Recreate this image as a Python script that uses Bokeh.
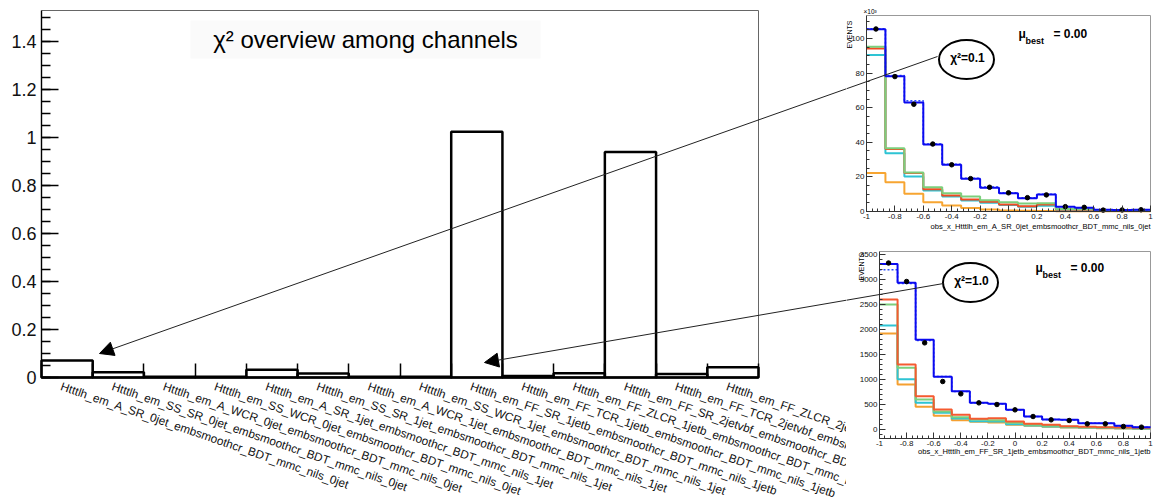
import numpy as np
from bokeh.plotting import figure
from bokeh.layouts import row, column
from bokeh.models import (Range1d, FixedTicker, SingleIntervalTicker, CustomJSTickFormatter, LinearAxis,
                          Label, LabelSet, ColumnDataSource, Arrow, NormalHead, BoxAnnotation)
from bokeh.core.properties import value
from bokeh.embed import file_html
from bokeh.resources import INLINE

FONT = "Liberation Sans"

# ---------------- data ----------------
channels = [
    "Htttlh_em_A_SR_0jet_embsmoothcr_BDT_mmc_nils_0jet",
    "Htttlh_em_SS_SR_0jet_embsmoothcr_BDT_mmc_nils_0jet",
    "Htttlh_em_A_WCR_0jet_embsmoothcr_BDT_mmc_nils_0jet",
    "Htttlh_em_SS_WCR_0jet_embsmoothcr_BDT_mmc_nils_0jet",
    "Htttlh_em_A_SR_1jet_embsmoothcr_BDT_mmc_nils_1jet",
    "Htttlh_em_SS_SR_1jet_embsmoothcr_BDT_mmc_nils_1jet",
    "Htttlh_em_A_WCR_1jet_embsmoothcr_BDT_mmc_nils_1jet",
    "Htttlh_em_SS_WCR_1jet_embsmoothcr_BDT_mmc_nils_1jet",
    "Htttlh_em_FF_SR_1jetb_embsmoothcr_BDT_mmc_nils_1jetb",
    "Htttlh_em_FF_TCR_1jetb_embsmoothcr_BDT_mmc_nils_1jetb",
    "Htttlh_em_FF_ZLCR_1jetb_embsmoothcr_BDT_mmc_nils_1jetb",
    "Htttlh_em_FF_SR_2jetvbf_embsmoothcr_BDT_mmc_nils_2jetvbf",
    "Htttlh_em_FF_TCR_2jetvbf_embsmoothcr_BDT_mmc_nils_2jetvbf",
    "Htttlh_em_FF_ZLCR_2jetvbf_embsmoothcr_BDT_mmc_nils_2jetvbf",
]
chi2 = [0.071, 0.022, 0.003, 0.003, 0.032, 0.017, 0.003, 0.003,
        1.025, 0.006, 0.018, 0.94, 0.015, 0.043]

# inset bin edges (15 bins on [-1, 1])
obs_edges = [-1 + 2 * i / 15 for i in range(16)]

# inset 1 : A_SR_0jet  (x10^3 events)
c0_data = [105.5, 78.0, 62.0, 39.0, 27.0, 19.0, 14.0, 10.8, 8.0, 9.6, 2.8, 2.4, 0.8, 0.9, 1.0]
c0_total = [105.4, 78.2, 63.0, 38.8, 27.0, 19.0, 13.8, 10.6, 7.7, 9.8, 2.7, 2.1, 1.0, 0.8, 1.0]
c0_prefit = [105.7, 78.6, 64.0, 39.0, 27.3, 19.2, 14.1, 10.9, 8.0, 10.0, 2.8, 2.2, 1.0, 0.8, 1.0]
c0_green = [95.2, 36.6, 22.6, 14.0, 10.6, 8.7, 6.5, 5.4, 4.6, 4.8, 1.5, 1.3, 0.8, 0.6, 0.5]
c0_red = [94.2, 36.2, 22.2, 12.9, 9.2, 6.9, 5.6, 4.0, 3.1, 4.0, 1.2, 1.0, 0.6, 0.5, 0.4]
c0_cyan = [90.4, 33.7, 20.2, 12.1, 8.7, 6.3, 5.0, 3.7, 2.7, 3.3, 1.0, 0.8, 0.5, 0.4, 0.3]
c0_orange = [22.3, 16.9, 10.2, 5.4, 3.5, 2.0, 1.2, 0.6, 0.4, 0.3, 0.2, 0.1, 0.1, 0.1, 0.1]

# inset 2 : FF_SR_1jetb
c8_data = [3330, 2960, 1733, 960, 713, 533, 500, 393, 260, 193, 180, 113, 113, 60, 47]
c8_total = [3310, 2933, 1793, 1053, 767, 533, 513, 393, 260, 200, 193, 127, 127, 73, 47]
c8_prefit = [3193, 2920, 1780, 1060, 760, 530, 510, 390, 258, 198, 190, 125, 125, 72, 46]
c8_red = [2600, 1300, 667, 400, 293, 213, 227, 160, 113, 93, 67, 53, 47, 40, 33]
c8_green = [2500, 1233, 600, 360, 247, 200, 187, 133, 93, 73, 53, 47, 40, 33, 27]
c8_cyan = [2080, 1007, 533, 333, 220, 167, 160, 107, 80, 60, 47, 40, 33, 27, 20]
c8_orange = [1920, 900, 453, 273, 187, 153, 140, 93, 73, 53, 40, 33, 27, 20, 13]

# ---------------- geometry (page pixels) ----------------
# plot boxes: where the data box of each panel sits on the page
MAIN = dict(fl=41, fr=758, ft=10, fb=377, x0=0, x1=14, y0=0, y1=1.53)
INS1 = dict(fl=866, fr=1150, ft=15, fb=211, x0=-1, x1=1, y0=0, y1=113.3)
INS2 = dict(fl=879, fr=1150, ft=251, fb=438, x0=-1, x1=1, y0=-180, y1=3560)
# canvases: (left, top, width, height)
MAIN_C = (0, 0, 846, 498)
INS1_C = (846, 0, 308, 240)
INS2_C = (846, 240, 308, 258)


def to_data(px, py, g):
    x = g["x0"] + (px - g["fl"]) / (g["fr"] - g["fl"]) * (g["x1"] - g["x0"])
    y = g["y0"] + (g["fb"] - py) / (g["fb"] - g["ft"]) * (g["y1"] - g["y0"])
    return x, y


def make_fig(c, g):
    cl, ct, cw, ch = c
    x_start, y_top = to_data(cl, ct, g)
    x_end, y_bot = to_data(cl + cw, ct + ch, g)
    p = figure(x_range=Range1d(x_start, x_end), y_range=Range1d(y_bot, y_top),
               frame_width=cw, frame_height=ch, min_border=0,
               x_axis_location=None, y_axis_location=None,
               output_backend="svg", toolbar_location=None)
    p.grid.visible = False
    p.outline_line_color = None
    p.background_fill_color = "white"
    p.border_fill_color = "white"
    return p


def lab(p, g, px, py, text, size, align="left", baseline="middle", bold=False, angle=0.0, color="black"):
    x, y = to_data(px, py, g)
    p.add_layout(Label(x=x, y=y, text=text, text_font=FONT, text_font_size=f"{size}px",
                       text_align=align, text_baseline=baseline, angle=angle,
                       text_font_style="bold" if bold else "normal", text_color=color))


def line_arrow(p, g, start, end, head=False):
    xs, ys = to_data(start[0], start[1], g)
    xe, ye = to_data(end[0], end[1], g)
    p.add_layout(Arrow(x_start=xs, y_start=ys, x_end=xe, y_end=ye, line_color="#222", line_width=1,
                       end=NormalHead(size=14, fill_color="black", line_color="black") if head else None))


def style_axis(ax, font_size, tick_in, minor_in, width, color="#222"):
    ax.major_tick_in = tick_in
    ax.major_tick_out = 0
    ax.minor_tick_in = minor_in
    ax.minor_tick_out = 0
    ax.axis_line_color = color
    ax.major_tick_line_color = color
    ax.minor_tick_line_color = color
    ax.axis_line_width = width
    ax.major_tick_line_width = width
    ax.minor_tick_line_width = width
    ax.major_label_text_font = FONT
    ax.major_label_text_font_size = font_size
    ax.major_label_text_color = "#111"


ARROW1 = ((937, 56), (99, 353))
ARROW2 = ((943, 283), (484, 362))

# ---------------- main chart ----------------
g = MAIN
main = make_fig(MAIN_C, g)

src = ColumnDataSource(dict(left=list(range(len(chi2))), right=[i + 1 for i in range(len(chi2))],
                            top=chi2, x=[i + 0.5 for i in range(len(chi2))], y=[0] * len(chi2),
                            name=channels))

bl, bt = to_data(190, 20, g)
br, bb = to_data(540, 58, g)
main.add_layout(BoxAnnotation(left=bl, right=br, top=bt, bottom=bb,
                              fill_color="#fafafa", fill_alpha=1, line_color=None, level="underlay"))

# frame (top and right edges)
main.line(x=[g["x0"], g["x1"], g["x1"]], y=[g["y1"], g["y1"], g["y0"]], line_color="#666", line_width=1)

main.quad(left="left", right="right", bottom=0, top="top", source=src,
          fill_color=None, line_color="black", line_width=2.5)

xa = LinearAxis(fixed_location=g["y0"], bounds=(g["x0"], g["x1"]),
                ticker=FixedTicker(ticks=list(range(len(chi2) + 1))),
                formatter=CustomJSTickFormatter(code="return ''"))
style_axis(xa, "1px", 14, 0, 1.5, "black")
xa.axis_line_width = 2.2
xa.minor_tick_line_color = None
main.add_layout(xa, "below")

ya = LinearAxis(fixed_location=g["x0"], bounds=(g["y0"], g["y1"]),
                ticker=SingleIntervalTicker(interval=0.2, num_minor_ticks=4),
                formatter=CustomJSTickFormatter(code="return String(Math.round(tick*10)/10)"))
style_axis(ya, "18px", 17, 9, 1.4, "black")
ya.major_label_standoff = 5
main.add_layout(ya, "left")

main.add_layout(LabelSet(x="x", y="y", text="name", source=src, angle=-0.332,
                         x_offset=-6, y_offset=-8.5, text_align="left", text_baseline="middle",
                         text_font=value(FONT), text_font_size="11.8px", text_color="#111"))

lab(main, g, 365, 39, "χ² overview among channels", 24, align="center")
line_arrow(main, g, ARROW1[0], ARROW1[1], head=True)
line_arrow(main, g, ARROW2[0], ARROW2[1], head=True)


# ---------------- insets ----------------
def make_inset(c, g, ytick, yminor, series, data, total, prefit, ytitle_px, xtitle, xtitle_py,
               chi_center, chi_text, mu_px, arrow):
    p = make_fig(c, g)
    p.line(x=[g["x0"], g["x1"], g["x1"]], y=[g["y1"], g["y1"], g["y0"]], line_color="#999", line_width=1)

    for vals, color in series:
        p.step(x=obs_edges, y=list(vals) + [vals[-1]], mode="after", line_color=color, line_width=2)
    p.step(x=obs_edges, y=list(prefit) + [prefit[-1]], mode="after", line_color="#2a4cff",
           line_width=1.5, line_dash="2 2")
    p.step(x=obs_edges, y=list(total) + [total[-1]], mode="after", line_color="#0a0af0", line_width=2)
    centers = [(obs_edges[i] + obs_edges[i + 1]) / 2 for i in range(15)]
    p.scatter(x=centers, y=data, size=4.5, color="black")

    xax = LinearAxis(fixed_location=g["y0"], bounds=(g["x0"], g["x1"]),
                     ticker=FixedTicker(ticks=[-1, -0.8, -0.6, -0.4, -0.2, 0, 0.2, 0.4, 0.6, 0.8, 1],
                                        minor_ticks=[round(-1 + 0.04 * i, 2) for i in range(51)]),
                     formatter=CustomJSTickFormatter(code="return String(Math.round(tick*10)/10)"))
    yax = LinearAxis(fixed_location=g["x0"], bounds=(g["y0"], g["y1"]),
                     ticker=SingleIntervalTicker(interval=ytick, num_minor_ticks=yminor))
    for ax in (xax, yax):
        style_axis(ax, "8px", 6, 3, 1, "#333")
        ax.major_label_standoff = 2
    p.add_layout(xax, "below")
    p.add_layout(yax, "left")

    lab(p, g, ytitle_px[0], ytitle_px[1], "EVENTS", 7, align="right", angle=np.pi / 2)
    lab(p, g, g["fr"], xtitle_py, xtitle, 7.6, align="right")

    line_arrow(p, g, arrow[0], arrow[1], head=False)
    cx, cy = to_data(chi_center[0], chi_center[1], g)
    p.ellipse(x=[cx], y=[cy], width=55, height=39, width_units="screen", height_units="screen",
              fill_color="white", line_color="black", line_width=2)
    lab(p, g, chi_center[0] + 1, chi_center[1] - 2, chi_text, 12, align="center", bold=True)

    mx, my = mu_px
    lab(p, g, mx, my, "μ", 12, bold=True)
    lab(p, g, mx + 7, my + 7, "best", 9, bold=True)
    lab(p, g, mx + 35, my, "= 0.00", 12, bold=True)
    return p


ins1 = make_inset(INS1_C, INS1, 20, 4,
                  [(c0_orange, "#f7a531"), (c0_cyan, "#2ec4d4"), (c0_red, "#f24a22"), (c0_green, "#7ccf7c")],
                  c0_data, c0_total, c0_prefit, (849, 20),
                  "obs_x_Htttlh_em_A_SR_0jet_embsmoothcr_BDT_mmc_nils_0jet", 226,
                  (966, 59), "χ²=0.1", (1018, 33), ARROW1)
lab(ins1, INS1, 863, 11, "×10³", 6.5)

ins2 = make_inset(INS2_C, INS2, 500, 5,
                  [(c8_orange, "#f5a030"), (c8_cyan, "#2ec4d4"), (c8_green, "#7ccf7c"), (c8_red, "#f55a30")],
                  c8_data, c8_total, c8_prefit, (861, 252),
                  "obs_x_Htttlh_em_FF_SR_1jetb_embsmoothcr_BDT_mmc_nils_1jetb", 451,
                  (970, 282), "χ²=1.0", (1035, 267), ARROW2)

layout = row(main, column(ins1, ins2))
open("out.html", "w").write(file_html(layout, INLINE))
